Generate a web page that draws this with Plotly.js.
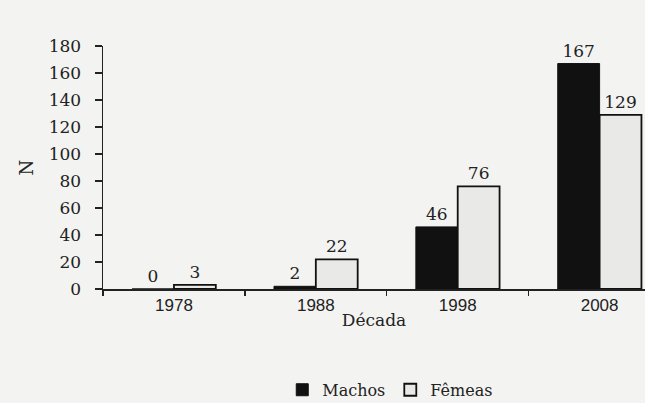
<!DOCTYPE html>
<html>
<head>
<meta charset="utf-8">
<script src="https://cdn.plot.ly/plotly-3.0.1.min.js"></script>
<style>html,body{margin:0;padding:0;background:#f3f3f1;}</style>
</head>
<body>
<div id="chart" style="width:645px;height:403px;"></div>
<script>
const decadas = ['1978', '1988', '1998', '2008'];
const machos = [0, 2, 46, 167];
const femeas = [3, 22, 76, 129];

const serif = 'DejaVu Serif';
const sans = 'Liberation Sans';

const traces = [
  {
    type: 'bar', name: 'Machos', x: decadas, y: machos,
    text: machos.map(String), textposition: 'outside', cliponaxis: false,
    textfont: {family: serif, size: 17, color: '#222'},
    marker: {color: '#111111', line: {color: '#111111', width: 1}}
  },
  {
    type: 'bar', name: 'Fêmeas', x: decadas, y: femeas,
    text: femeas.map(String), textposition: 'outside', cliponaxis: false,
    textfont: {family: serif, size: 17, color: '#222'},
    marker: {color: '#e9e9e7', line: {color: '#111111', width: 1.8}}
  }
];

const layout = {
  width: 645, height: 403,
  margin: {l: 103, r: 0, t: 46, b: 114, autoexpand: false},
  paper_bgcolor: '#f3f3f1', plot_bgcolor: '#f3f3f1',
  barmode: 'group', bargap: 0.41, bargroupgap: 0,
  showlegend: true,
  legend: {orientation: 'h', x: 0.53, xanchor: 'center', y: -0.415, yanchor: 'middle',
           font: {family: serif, size: 16, color: '#222'}, itemwidth: 30, traceorder: 'normal',
           bgcolor: 'rgba(0,0,0,0)'},
  xaxis: {
    type: 'category', range: [-0.5, 3.32], automargin: false,
    showline: true, linecolor: '#222', linewidth: 1.5,
    ticks: 'outside', tickson: 'boundaries', ticklen: 5, tickcolor: '#222', tickwidth: 1.3,
    tickfont: {family: sans, size: 17, color: '#222'},
    showgrid: false, zeroline: false,
    title: {text: 'Década', font: {family: serif, size: 17, color: '#222'}, standoff: 0}
  },
  yaxis: {
    range: [0, 180], dtick: 20, automargin: false,
    showline: true, linecolor: '#222', linewidth: 1.5,
    ticks: 'outside', ticklen: 7, tickcolor: '#222', tickwidth: 1.3,
    ticklabelstandoff: 10,
    tickfont: {family: serif, size: 17, color: '#222'},
    showgrid: false, zeroline: false,
    title: {text: 'N', font: {family: serif, size: 18, color: '#222'}, standoff: 10}
  }
};

Plotly.newPlot('chart', traces, layout, {displayModeBar: false, staticPlot: true});
</script>
</body>
</html>
